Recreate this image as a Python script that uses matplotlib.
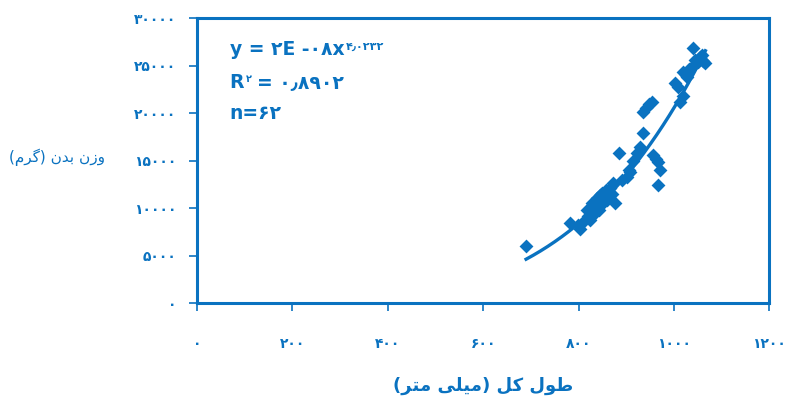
import numpy as np
import matplotlib
matplotlib.use("Agg")
import matplotlib.pyplot as plt

# total length (mm) and body weight (g)
length_mm = [690, 782, 798, 803, 812, 817, 820, 824, 826, 828,
             830, 833, 835, 836, 838, 840, 842, 845, 847, 850,
             852, 855, 858, 860, 865, 870, 873, 877, 884, 892,
             901, 905, 908, 915, 922, 928, 935, 936, 942, 948,
             954, 957, 962, 967, 971, 967, 1003, 1008, 1013, 1018,
             1020, 1025, 1027, 1032, 1038, 1041, 1045, 1050, 1055, 1059,
             1062, 1066]
weight_g = [6000, 8450, 8200, 7760, 8600, 9790, 9200, 8740, 9600, 10490,
            9900, 10200, 9440, 10800, 11020, 10400, 9800, 11370, 10900, 11600,
            10490, 11200, 11900, 10800, 12100, 11500, 12600, 10490, 15820, 13000,
            13300, 14000, 13820, 15000, 15750, 16400, 17930, 20140, 20500, 21000,
            21190, 15580, 15200, 14870, 14000, 12420, 23120, 22800, 21190, 21800,
            24350, 24000, 23820, 24600, 24880, 26810, 25600, 25400, 25900, 26100,
            25500, 25230]

# power trend line y = a * x^b
fit_coef = 1.75e-8
fit_exp = 4.0232
fit_range = (690, 1066)

x_ticks = [0, 200, 400, 600, 800, 1000, 1200]
y_ticks = [0, 5000, 10000, 15000, 20000, 25000, 30000]

BLUE = "#0a72c0"

PERSIAN_DIGITS = "۰۱۲۳۴۵۶۷۸۹"


def fa_num(v):
    s = "".join(PERSIAN_DIGITS[int(c)] if c.isdigit() else c for c in str(v))
    return s.replace(".", "٫")


# presentation forms: isolated, final, initial, medial
FORMS = {
    "ب": ("\uFE8F", "\uFE90", "\uFE91", "\uFE92"),
    "ت": ("\uFE95", "\uFE96", "\uFE97", "\uFE98"),
    "د": ("\uFEA9", "\uFEAA", None, None),
    "ر": ("\uFEAD", "\uFEAE", None, None),
    "ز": ("\uFEAF", "\uFEB0", None, None),
    "ط": ("\uFEC1", "\uFEC2", "\uFEC3", "\uFEC4"),
    "ل": ("\uFEDD", "\uFEDE", "\uFEDF", "\uFEE0"),
    "م": ("\uFEE1", "\uFEE2", "\uFEE3", "\uFEE4"),
    "ن": ("\uFEE5", "\uFEE6", "\uFEE7", "\uFEE8"),
    "و": ("\uFEED", "\uFEEE", None, None),
    "ک": ("\uFB8E", "\uFB8F", "\uFB90", "\uFB91"),
    "گ": ("\uFB92", "\uFB93", "\uFB94", "\uFB95"),
    "ی": ("\uFBFC", "\uFBFD", "\uFBFE", "\uFBFF"),
}


def rtl(text):
    """shape persian letters and reverse into visual order"""
    out = []
    n = len(text)
    for i, ch in enumerate(text):
        if ch not in FORMS:
            out.append(ch)
            continue
        prev = text[i - 1] if i > 0 else ""
        nxt = text[i + 1] if i < n - 1 else ""
        join_prev = prev in FORMS and FORMS[prev][2] is not None
        join_next = FORMS[ch][2] is not None and nxt in FORMS
        iso, fin, ini, med = FORMS[ch]
        if join_prev and join_next:
            out.append(med)
        elif join_prev:
            out.append(fin)
        elif join_next:
            out.append(ini)
        else:
            out.append(iso)
    vis = "".join(reversed(out))
    return vis.translate(str.maketrans("()", ")("))


plt.rcParams["font.family"] = ["DejaVu Sans"]

fig = plt.figure(figsize=(7.85, 4.03), dpi=100)
ax = fig.add_axes([0.251, 0.248, 0.729, 0.707])

ax.scatter(length_mm, weight_g, marker="D", s=50, color=BLUE, linewidths=0, zorder=3)

xf = np.linspace(fit_range[0], fit_range[1], 200)
ax.plot(xf, fit_coef * xf ** fit_exp, color=BLUE, lw=2.4, zorder=2)

ax.set_xlim(0, 1200)
ax.set_ylim(0, 30000)
ax.set_xticks(x_ticks)
ax.set_yticks(y_ticks)
ax.set_xticklabels([fa_num(v) for v in x_ticks], fontweight="bold", fontsize=10, color=BLUE)
ax.set_yticklabels([fa_num(v) for v in y_ticks], fontweight="bold", fontsize=10, color=BLUE)
ax.tick_params(axis="x", direction="out", length=6, width=1.2, color=BLUE, pad=18.5)
ax.tick_params(axis="y", direction="out", length=6, width=1.2, color=BLUE, pad=9)
for sp in ax.spines.values():
    sp.set_color(BLUE)
    sp.set_linewidth(2.2)

ax.set_xlabel(rtl("طول کل (میلی متر)"), fontsize=13, fontweight="bold", color=BLUE, labelpad=18.5)
fig.text(0.073, 0.61, rtl("وزن بدن (گرم)"), fontsize=11, color=BLUE, ha="center", va="center")

# trend line equation box
fs = 13.5
eq = ax.text(0.057, 0.87, "y = " + fa_num(2) + "E -" + fa_num("08") + "x", transform=ax.transAxes,
             fontsize=fs, fontweight="bold", color=BLUE, va="baseline")
ax.annotate(fa_num("4.0232"), xy=(1, 1), xycoords=eq, xytext=(1, -1), textcoords="offset points",
            fontsize=8, fontweight="bold", color=BLUE, va="top")
r2 = ax.text(0.057, 0.755, "R", transform=ax.transAxes,
             fontsize=fs, fontweight="bold", color=BLUE, va="baseline")
ax.annotate(fa_num(2), xy=(1, 1), xycoords=r2, xytext=(1, -1), textcoords="offset points",
            fontsize=7, fontweight="bold", color=BLUE, va="top")
ax.annotate("= " + fa_num("0.8902"), xy=(1, 0), xycoords=r2, xytext=(9, 0), textcoords="offset points",
            fontsize=fs, fontweight="bold", color=BLUE, va="bottom")
ax.text(0.057, 0.645, "n=" + fa_num(62), transform=ax.transAxes,
        fontsize=fs, fontweight="bold", color=BLUE, va="baseline")

fig.savefig("out.png", dpi=100)
